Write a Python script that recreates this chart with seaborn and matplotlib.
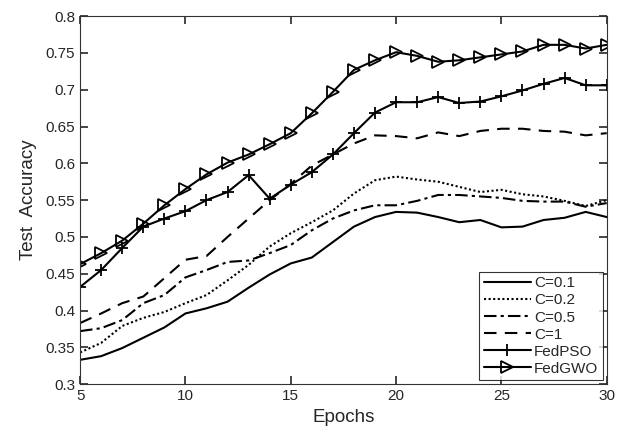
import seaborn as sns
import numpy as np
import matplotlib.pyplot as plt
import pandas as pd

#%%
epochs = list(range(5, 31))

c01 = [0.333, 0.338, 0.349, 0.363, 0.377, 0.396, 0.403, 0.412, 0.431, 0.449,
       0.464, 0.472, 0.493, 0.514, 0.527, 0.534, 0.533, 0.527, 0.520, 0.523,
       0.513, 0.514, 0.523, 0.526, 0.534, 0.527]
c02 = [0.343, 0.356, 0.379, 0.390, 0.398, 0.410, 0.421, 0.441, 0.462, 0.487,
       0.505, 0.520, 0.536, 0.559, 0.577, 0.582, 0.578, 0.575, 0.568, 0.561,
       0.564, 0.558, 0.555, 0.549, 0.542, 0.550]
c05 = [0.372, 0.376, 0.387, 0.410, 0.421, 0.445, 0.455, 0.466, 0.468, 0.478,
       0.489, 0.509, 0.525, 0.536, 0.543, 0.543, 0.549, 0.557, 0.557, 0.555,
       0.553, 0.549, 0.548, 0.548, 0.541, 0.546]
c1 = [0.383, 0.396, 0.410, 0.419, 0.444, 0.469, 0.474, 0.500, 0.525, 0.550,
      0.572, 0.597, 0.612, 0.627, 0.638, 0.637, 0.634, 0.642, 0.637, 0.644,
      0.647, 0.647, 0.644, 0.643, 0.638, 0.641]
fedpso = [0.432, 0.455, 0.485, 0.514, 0.525, 0.535, 0.550, 0.561, 0.584, 0.552,
          0.571, 0.588, 0.612, 0.641, 0.669, 0.683, 0.683, 0.690, 0.682, 0.684,
          0.691, 0.699, 0.708, 0.716, 0.706, 0.706]
fedgwo = [0.463, 0.478, 0.495, 0.518, 0.543, 0.565, 0.585, 0.601, 0.612, 0.626,
          0.641, 0.668, 0.697, 0.727, 0.740, 0.751, 0.746, 0.738, 0.740, 0.744,
          0.748, 0.752, 0.761, 0.761, 0.756, 0.761]

labels = ['C=0.1', 'C=0.2', 'C=0.5', 'C=1', 'FedPSO', 'FedGWO']

#%%
sns.set_style('ticks', {'xtick.direction': 'in', 'ytick.direction': 'in',
                        'xtick.top': True, 'ytick.right': True})
plt.rcParams['font.family'] = ['Liberation Sans', 'DejaVu Sans']

fig, ax = plt.subplots(figsize=(6.21, 4.36), dpi=100)
fig.subplots_adjust(left=0.129, right=0.977, top=0.963, bottom=0.119)

series = [c01, c02, c05, c1, fedpso, fedgwo]
# seaborn gives markers a white edge by default, so set it back to black
styles = [
    dict(linestyle='-'),
    dict(linestyle=(0, (1, 1.2))),
    dict(linestyle=(0, (6, 2, 1.5, 2))),
    dict(linestyle=(0, (6, 4))),
    dict(linestyle='-', marker='+', markersize=8, markeredgewidth=1.3,
         markeredgecolor='black'),
    dict(linestyle='-', marker='>', markersize=9, markerfacecolor='none',
         markeredgecolor='black', markeredgewidth=1.3),
]
for vals, lab, st in zip(series, labels, styles):
    sns.lineplot(x=epochs, y=vals, ax=ax, color='black', linewidth=1.5,
                 label=lab)
    ax.lines[-1].set(**st)

ax.set_xlim(5, 30)
ax.set_ylim(0.3, 0.8)
ax.set_xticks([5, 10, 15, 20, 25, 30])
ax.set_yticks(np.arange(0.3, 0.81, 0.05))
ax.set_yticklabels(['0.3', '0.35', '0.4', '0.45', '0.5', '0.55', '0.6',
                    '0.65', '0.7', '0.75', '0.8'])
ax.tick_params(axis='both', which='major', direction='in', top=True,
               right=True, labelsize=11, color='#262626', length=6, width=1.2)
for s in ax.spines.values():
    s.set_visible(True)
    s.set_color('#333333')
    s.set_linewidth(0.8)

ax.set_xlabel('Epochs', fontsize=13.5)
ax.set_ylabel('Test  Accuracy', fontsize=13.5, labelpad=6)

leg = ax.legend(loc='lower right', fontsize=11, frameon=True, fancybox=False,
                edgecolor='black', handlelength=3.1, handletextpad=0.2,
                labelspacing=0.2, borderpad=0.3, borderaxespad=0.25)
leg.get_frame().set_linewidth(0.8)

plt.savefig('out.png', dpi=100)
